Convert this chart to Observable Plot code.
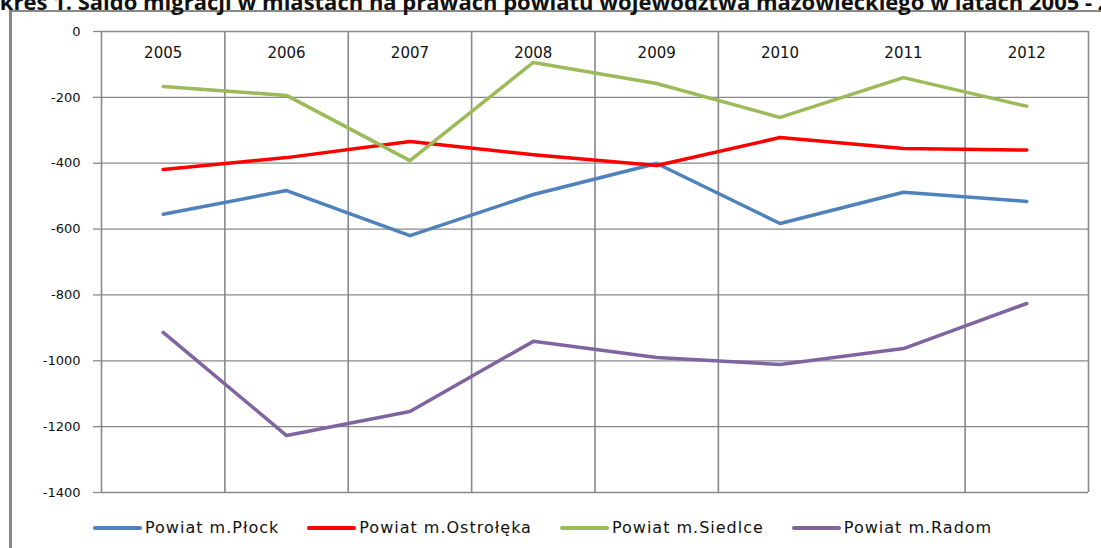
<!DOCTYPE html>
<html>
<head>
<meta charset="utf-8">
<script src="https://cdn.jsdelivr.net/npm/d3@7"></script>
<script src="https://cdn.jsdelivr.net/npm/@observablehq/plot@0.6"></script>
<style>
  html, body { margin: 0; padding: 0; background: #fff; }
  #wrap { position: relative; width: 1101px; height: 548px; overflow: hidden; background: #fff; }
  #title { position: absolute; left: -34px; top: -12px; white-space: nowrap; font-family: "Open Sans", sans-serif; font-weight: 700; font-size: 22px; line-height: 26px; color: #111; }
  #frame { position: absolute; left: 9px; top: 10px; width: 1200px; height: 600px; border-left: 3px solid #888; border-top: 2px solid #888; }
  #chart { position: absolute; left: 0; top: 0; }
  #legend { position: absolute; left: 93px; top: 518px; display: flex; align-items: center; font-family: "DejaVu Sans", sans-serif; font-size: 16px; letter-spacing: 1px; color: #111; }
  .item { display: flex; align-items: center; margin-right: 28px; }
  .sw { width: 49px; height: 4px; margin-right: 3px; border-radius: 2px; }
</style>
</head>
<body>
<div id="wrap">
  <div id="frame"></div>
  <div id="title">Wykres 1. Saldo migracji w miastach na prawach powiatu województwa mazowieckiego w latach 2005 - 2012</div>
  <div id="chart"></div>
  <div id="legend"></div>
</div>
<script>
const years = [2005, 2006, 2007, 2008, 2009, 2010, 2011, 2012];
const seriesNames = ["Powiat m.Płock", "Powiat m.Ostrołęka", "Powiat m.Siedlce", "Powiat m.Radom"];
const seriesColors = ["#4F81BD", "#FF0000", "#9BBB59", "#8064A2"];
const plock = [-555, -483, -620, -495, -401, -583, -488, -516];
const ostroleka = [-419, -383, -334, -374, -407, -322, -355, -360];
const siedlce = [-167, -194, -392, -94, -158, -261, -140, -227];
const radom = [-914, -1227, -1154, -941, -990, -1011, -963, -826];
const yTicks = [0, -200, -400, -600, -800, -1000, -1200, -1400];

const seriesValues = [plock, ostroleka, siedlce, radom];
const data = [];
seriesNames.forEach((name, i) => {
  years.forEach((yr, j) => data.push({series: name, year: yr, value: seriesValues[i][j]}));
});

// category boundaries (the reference shows no divider between 2010 and 2011)
const boundaries = [years[0] - 0.5, ...years.map(y => y + 0.5)].filter(b => b !== 2010.5);

const chart = Plot.plot({
  width: 1101,
  height: 510,
  marginTop: 31,
  marginBottom: 18,
  marginLeft: 101,
  marginRight: 13,
  style: {fontFamily: "DejaVu Sans, sans-serif", background: "transparent"},
  x: {type: "linear", domain: [years[0] - 0.5, years[years.length - 1] + 0.5], axis: null},
  y: {domain: [yTicks[yTicks.length - 1], yTicks[0]], ticks: yTicks, label: null},
  color: {domain: seriesNames, range: seriesColors},
  marks: [
    Plot.gridY(yTicks, {stroke: "#888", strokeOpacity: 1, strokeWidth: 1.3}),
    Plot.ruleX(boundaries, {stroke: "#888", strokeWidth: 1.6}),
    Plot.axisY(yTicks, {label: null, tickSize: 8, tickPadding: 13, stroke: "#888", strokeWidth: 1.3, fontSize: 13, fill: "#111", tickFormat: d => String(d), style: "letter-spacing:2px"}),
    Plot.text(years, {x: d => d, y: yTicks[0], dy: 22, text: d => String(d), fontSize: 15, fill: "#111", lineAnchor: "middle", style: "letter-spacing:1.8px"}),
    Plot.line(data, {x: "year", y: "value", z: "series", stroke: "series", strokeWidth: 3.5})
  ]
});
document.getElementById("chart").appendChild(chart);

const legend = document.getElementById("legend");
seriesNames.forEach((name, i) => {
  const item = document.createElement("div");
  item.className = "item";
  const sw = document.createElement("div");
  sw.className = "sw";
  sw.style.background = seriesColors[i];
  const label = document.createElement("span");
  label.textContent = name;
  item.appendChild(sw);
  item.appendChild(label);
  legend.appendChild(item);
});
</script>
</body>
</html>
